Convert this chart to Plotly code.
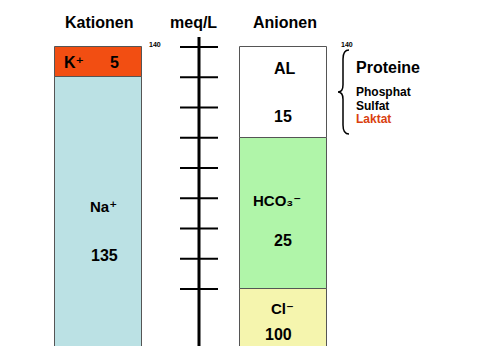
import plotly.graph_objects as go

# ---- data ----
cation_names = ["Na⁺", "K⁺"]
cation_values = [135, 5]
cation_colors = ["#BBE1E4", "#F24E12"]

anion_names = ["Cl⁻", "HCO₃⁻", "AL"]
anion_values = [100, 25, 15]
anion_colors = ["#F5F5AE", "#B0F5A9", "#FFFFFF"]

scale_ticks = [100, 105, 110, 115, 120, 125, 130, 135, 140]
total = 140
al_parts = ["Phosphat", "Sulfat", "Laktat"]
headings = ["Kationen", "meq/L", "Anionen"]

# ---- layout constants (pixel-like x axis) ----
X_CAT, X_MEQ, X_AN, BAR_W = 98.5, 199, 283.5, 87
PX_PER = 6.05
TOP_PX = 47
PLOT_T, PLOT_B = 37, 346
Y_TOP = total + (TOP_PX - PLOT_T) / PX_PER
Y_BOT = Y_TOP - (PLOT_B - PLOT_T) / PX_PER


def py(px):
    return total - (px - TOP_PX) / PX_PER


def ppaper(px):
    return (PLOT_B - px) / (PLOT_B - PLOT_T)


FONT = "Liberation Sans, Arial, DejaVu Sans, sans-serif"
fig = go.Figure()

base = 0
for n, v, c in zip(cation_names, cation_values, cation_colors):
    fig.add_trace(go.Bar(x=[X_CAT], y=[v], base=[base], width=[BAR_W],
                         marker=dict(color=c, line=dict(color="#555555", width=1)),
                         name=n, hoverinfo="skip"))
    base += v
base = 0
for n, v, c in zip(anion_names, anion_values, anion_colors):
    fig.add_trace(go.Bar(x=[X_AN], y=[v], base=[base], width=[BAR_W],
                         marker=dict(color=c, line=dict(color="#555555", width=1)),
                         name=n, hoverinfo="skip"))
    base += v

# meq/L scale
fig.add_trace(go.Scatter(x=[X_MEQ, X_MEQ], y=[Y_BOT, Y_TOP], mode="lines",
                         line=dict(color="black", width=3), hoverinfo="skip"))
tx, ty = [], []
for t in scale_ticks:
    tx += [X_MEQ - 19, X_MEQ + 19, None]
    ty += [t, t, None]
fig.add_trace(go.Scatter(x=tx, y=ty, mode="lines", connectgaps=False,
                         line=dict(color="black", width=2), hoverinfo="skip"))

ann = []


def A(x, y, text, size=15, color="black", bold=True, xanchor="center", yref="y"):
    ann.append(dict(x=x, y=y, text=("<b>%s</b>" % text) if bold else text,
                    showarrow=False, xanchor=xanchor, yanchor="middle",
                    font=dict(family=FONT, size=size, color=color), xref="x", yref=yref))


# headings
A(X_CAT, ppaper(22), headings[0], 16, yref="paper")
A(193, ppaper(22), headings[1], 16, yref="paper")
A(285, ppaper(22), headings[2], 16, yref="paper")
# 140 marks
A(155, py(44), str(total), 7)
A(347, py(44), str(total), 7)

# cation labels
A(74, (cation_values[0] + total) / 2, cation_names[1], 16)
A(114, (cation_values[0] + total) / 2, str(cation_values[1]), 16)
A(103, py(206), cation_names[0], 15)
A(104, py(255), str(cation_values[0]), 16)

# anion labels
A(285, py(68), anion_names[2], 16)
A(283, py(116), str(anion_values[2]), 16)
A(277, py(200), anion_names[1], 15)
A(283, py(240), str(anion_values[1]), 16)
A(282, py(308), anion_names[0], 15)
A(278, py(334), str(anion_values[0]), 16)

# AL composition
A(354, py(67), "Proteine", 16, xanchor="left")
A(354, py(92), al_parts[0], 12, xanchor="left")
A(354, py(106), al_parts[1], 12, xanchor="left")
A(354, py(119), al_parts[2], 12, color="#D9400F", xanchor="left")

# brace
bx, by0, by1, bm = 349, py(50), py(134), py(92)
path = (f"M {bx},{by0} Q {bx-6},{by0} {bx-6},{by0-1.5} L {bx-6},{bm+1.2} "
        f"Q {bx-6},{bm} {bx-11},{bm} Q {bx-6},{bm} {bx-6},{bm-1.2} "
        f"L {bx-6},{by1+1.5} Q {bx-6},{by1} {bx},{by1}")
shapes = [dict(type="path", path=path, xref="x", yref="y",
               line=dict(color="black", width=1.5))]

fig.update_layout(
    width=481, height=360, margin=dict(l=0, r=0, t=PLOT_T, b=360 - PLOT_B),
    paper_bgcolor="white", plot_bgcolor="white", showlegend=False,
    barmode="overlay", bargap=0,
    xaxis=dict(range=[0, 481], visible=False, fixedrange=True),
    yaxis=dict(range=[Y_BOT, Y_TOP], visible=False, fixedrange=True),
    annotations=ann, shapes=shapes,
)
fig.write_html("out.html", config={"displayModeBar": False},
               post_script="document.body.style.margin='0';")
